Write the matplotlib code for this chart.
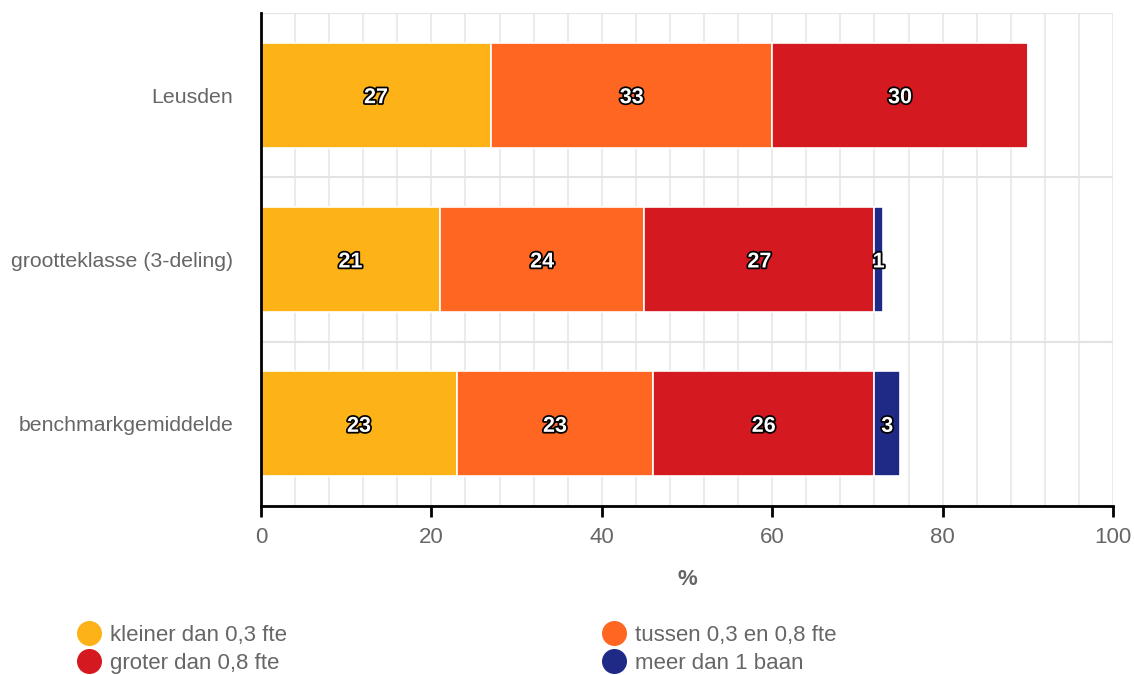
import numpy as np
import matplotlib.pyplot as plt
import matplotlib.patheffects as pe
from matplotlib.lines import Line2D

plt.rcParams['font.family'] = ['Liberation Sans', 'DejaVu Sans']

# Data
categorieen = ['Leusden', 'grootteklasse (3-deling)', 'benchmarkgemiddelde']
reeksen = ['kleiner dan 0,3 fte', 'tussen 0,3 en 0,8 fte', 'groter dan 0,8 fte', 'meer dan 1 baan']
kleiner = [27, 21, 23]
tussen = [33, 24, 23]
groter = [30, 27, 26]
meer = [0, 1, 3]
kleuren = ['#FDB218', '#FF6622', '#D51920', '#1F2A87']

waarden = [kleiner, tussen, groter, meer]

fig = plt.figure(figsize=(11.34, 6.75), dpi=100)
ax = fig.add_axes([261 / 1134, 1 - 506 / 675, 852 / 1134, 493 / 675])

y = np.arange(len(categorieen))
links = np.zeros(len(categorieen))
for vals, kleur in zip(waarden, kleuren):
    vals = np.array(vals, dtype=float)
    bars = ax.barh(y, vals, left=links, height=0.64, color=kleur,
                   edgecolor='white', linewidth=1.2, zorder=3)
    for b, v in zip(bars, vals):
        if v > 0:
            t = ax.text(b.get_x() + b.get_width() / 2, b.get_y() + b.get_height() / 2,
                        f'{int(v)}', ha='center', va='center_baseline', color='white',
                        fontsize=15.5, fontweight='bold', zorder=4)
            t.set_path_effects([pe.withStroke(linewidth=2.5, foreground='black')])
    links += vals

ax.set_xlim(0, 100)
ax.set_ylim(2.5, -0.5)
ax.set_yticks(y)
ax.set_yticklabels(categorieen, fontsize=15.3, color='#666666')
ax.set_xticks(np.arange(0, 101, 20))
ax.set_xticks(np.arange(0, 101, 4), minor=True)
ax.set_yticks([-0.5, 0.5, 1.5, 2.5], minor=True)
ax.tick_params(axis='x', which='major', length=8, width=2, color='black',
               labelsize=16, labelcolor='#666666', pad=7)
ax.tick_params(axis='x', which='minor', length=0)
ax.tick_params(axis='y', which='both', length=0, pad=20)
ax.grid(True, which='both', axis='x', color='#ebebeb', linewidth=1.5, zorder=0)
ax.grid(True, which='minor', axis='y', color='#e3e3e3', linewidth=1.5, zorder=0)
ax.set_axisbelow(True)

for s in ['top', 'right']:
    ax.spines[s].set_visible(False)
for s in ['left', 'bottom']:
    ax.spines[s].set_linewidth(2)
    ax.spines[s].set_zorder(5)

ax.set_xlabel('%', fontsize=16, fontweight='bold', color='#666666', labelpad=15)

handles = [Line2D([], [], marker='o', linestyle='none', markersize=17,
                  color=k) for k in kleuren]
legend_font = {'family': ['Liberation Sans', 'DejaVu Sans'], 'size': 16}
opties = dict(loc='upper left', frameon=False, prop=legend_font, labelcolor='#666666',
              handletextpad=0.15, labelspacing=0.3, borderpad=0, handlelength=1.6)
leg1 = fig.legend([handles[0], handles[2]], [reeksen[0], reeksen[2]],
                  bbox_to_anchor=(60 / 1134, 1 - 614 / 675), **opties)
leg2 = fig.legend([handles[1], handles[3]], [reeksen[1], reeksen[3]],
                  bbox_to_anchor=(585 / 1134, 1 - 614 / 675), **opties)

fig.savefig('out.png', dpi=100)
